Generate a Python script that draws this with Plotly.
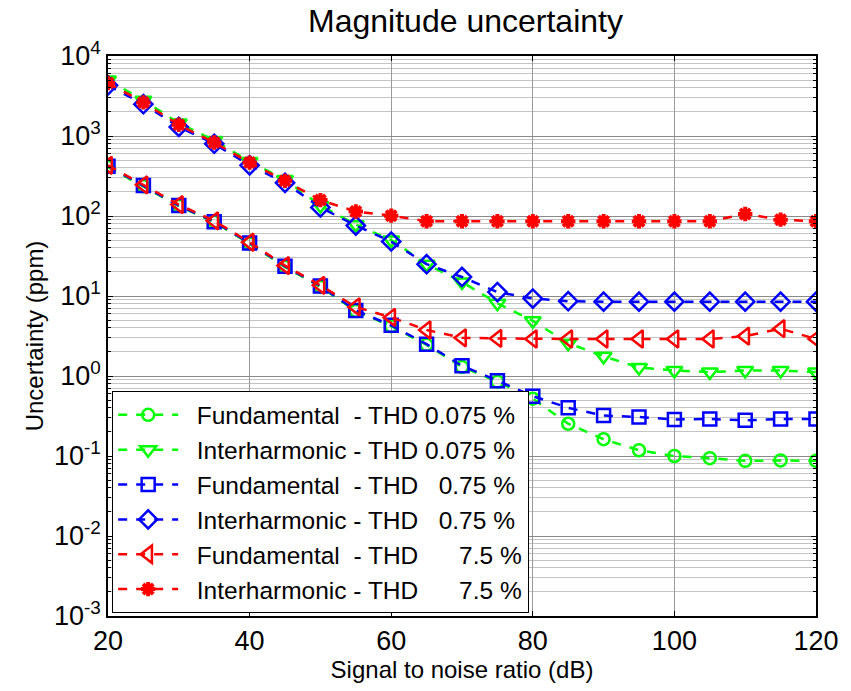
import plotly.graph_objects as go

snr = [20, 25, 30, 35, 40, 45, 50, 55, 60, 65, 70, 75, 80, 85, 90, 95, 100, 105, 110, 115, 120]

fund_0075 = [410, 235, 133, 84, 45, 23, 13, 6.5, 4.2, 2.45, 1.3, 0.85, 0.52, 0.253, 0.162, 0.118, 0.100, 0.094, 0.087, 0.088, 0.087]
inter_0075 = [5000, 2800, 1450, 880, 480, 285, 135, 78, 50, 25, 15, 8.1, 4.9, 2.57, 1.76, 1.28, 1.17, 1.12, 1.17, 1.17, 1.12]
fund_075 = [420, 240, 135, 85, 46, 23.5, 13.3, 6.6, 4.3, 2.5, 1.34, 0.875, 0.56, 0.40, 0.32, 0.307, 0.286, 0.29, 0.279, 0.29, 0.29]
inter_075 = [4300, 2500, 1300, 800, 430, 260, 128, 76, 48, 25, 17.3, 11.2, 9.3, 8.6, 8.5, 8.5, 8.5, 8.5, 8.5, 8.5, 8.5]
fund_75 = [430, 245, 139, 87, 47, 24, 13.6, 7.3, 5.4, 3.76, 3.0, 2.95, 2.9, 2.9, 2.9, 2.9, 2.9, 2.9, 3.15, 3.9, 2.9]
inter_75 = [4600, 2630, 1380, 830, 465, 275, 158, 114, 101, 86, 86, 86, 86, 86, 86, 86, 86, 86, 106, 90, 86]

NB = "\u00a0"
names = [
    "Fundamental" + NB * 2 + "- THD 0.075 %",
    "Interharmonic - THD 0.075 %",
    "Fundamental" + NB * 2 + "- THD" + NB * 3 + "0.75 %",
    "Interharmonic - THD" + NB * 3 + "0.75 %",
    "Fundamental" + NB * 2 + "- THD" + NB * 6 + "7.5 %",
    "Interharmonic - THD" + NB * 6 + "7.5 %",
]
series = [fund_0075, inter_0075, fund_075, inter_075, fund_75, inter_75]
colors = ["#00ff00", "#00ff00", "#0000ff", "#0000ff", "#ff0000", "#ff0000"]
symbols = ["circle-open", "triangle-down-open", "square-open", "diamond-open", "triangle-left-open", "asterisk-open"]
sizes = [12, 14, 13, 14, 15, 12]

fig = go.Figure()
for name, ys, c, s, sz in zip(names, series, colors, symbols, sizes):
    fig.add_trace(go.Scatter(
        x=snr, y=ys, name=NB * 2 + name, mode="lines+markers",
        line=dict(color=c, width=2.5, dash="dash"),
        marker=dict(symbol=s, size=sz, color=c, line=dict(color=c, width=2.5 if s != "asterisk-open" else 4)),
    ))

ytickvals = [1e-3, 1e-2, 1e-1, 1, 10, 100, 1000, 10000]
yticktext = ["10<sup>-3</sup>", "10<sup>-2</sup>", "10<sup>-1</sup>", "10<sup>0</sup>",
             "10<sup>1</sup>", "10<sup>2</sup>", "10<sup>3</sup>", "10<sup>4</sup>"]
minor_vals = [m * 10 ** e for e in range(-3, 4) for m in range(2, 10)]

font = "Liberation Sans, Arial, sans-serif"
fig.update_layout(
    width=851, height=691,
    margin=dict(l=108, r=25, t=56, b=71),
    paper_bgcolor="white", plot_bgcolor="white",
    font=dict(family=font, size=24, color="black"),
    title=dict(text="Magnitude uncertainty", x=0.547, xanchor="center", y=0.986, yanchor="top",
               pad=dict(t=0, b=0), font=dict(size=32, color="black")),
    showlegend=True,
    legend=dict(x=0.0056, y=0.005, xanchor="left", yanchor="bottom",
                bgcolor="white", bordercolor="black", borderwidth=1.2,
                font=dict(size=24.5), tracegroupgap=0, itemwidth=60),
)
fig.update_xaxes(
    range=[20, 120], tickvals=[20, 40, 60, 80, 100, 120],
    showgrid=True, gridcolor="#9a9a9a", gridwidth=1,
    showline=True, linecolor="black", linewidth=1.5, mirror="ticks",
    ticks="inside", ticklen=5, tickcolor="black", ticklabeloverflow="allow",
    tickfont=dict(size=27), zeroline=False,
    title=dict(text="Signal to noise ratio (dB)", font=dict(size=24), standoff=6),
)
fig.update_yaxes(
    type="log", range=[-3, 4], tickvals=ytickvals, ticktext=yticktext,
    showgrid=True, gridcolor="#8a8a8a", gridwidth=1,
    showline=True,
    linecolor="black", linewidth=1.5, mirror="ticks",
    ticks="inside", ticklen=5, tickcolor="black", ticklabeloverflow="allow",
    tickfont=dict(size=27), zeroline=False,
    minor=dict(tickvals=minor_vals, showgrid=True, gridcolor="#c4c4c4", gridwidth=1,
               ticks="inside", ticklen=3, tickcolor="black"),
    title=dict(text="Uncertainty (ppm)", font=dict(size=24), standoff=4),
)

page_css = (
    "for (const el of [document.documentElement, document.body]) {"
    "el.style.margin='0'; el.style.padding='0'; el.style.overflow='hidden';"
    "el.style.width='851px'; el.style.height='691px'; }"
)
fig.write_html("out.html", config={"displayModeBar": False}, post_script=page_css)
